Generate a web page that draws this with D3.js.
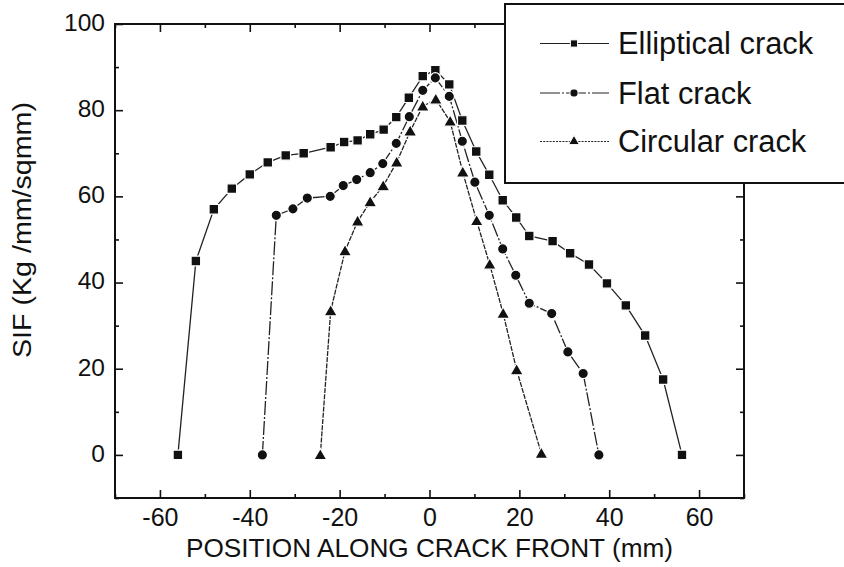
<!DOCTYPE html>
<html><head><meta charset="utf-8">
<script src="https://cdn.jsdelivr.net/npm/d3@7"></script>
<style>
html,body{margin:0;padding:0;background:#fff;}
text{font-family:"Liberation Sans",Arial,sans-serif;fill:#111;}
</style></head>
<body>
<svg id="chart" width="844" height="567"></svg>
<script>
// ---- data ----
const ellipticalX = [-56,-52,-48,-44,-40,-36,-32,-28,-22,-19,-16,-13.2,-10.2,-7.4,-4.6,-1.5,1.3,4.4,7.3,10.4,13.3,16.3,19.3,22.2,27.4,31.3,35.5,39.5,43.7,48,52,56.2];
const ellipticalY = [0,45,57,61.8,65.1,67.9,69.5,70,71.4,72.6,73,74.4,75.5,78.4,82.9,87.9,89.3,86,77.6,70.4,65,59.1,55.1,50.8,49.6,46.8,44.2,39.8,34.7,27.7,17.5,0];
const flatX = [-37.2,-34.1,-30.4,-27.2,-22.1,-19.2,-16.2,-13.2,-10.4,-7.4,-4.5,-1.5,1.3,4.4,7.3,10.1,13.3,16.3,19.2,22.2,27.2,30.8,34.2,37.7];
const flatY = [0,55.6,57.1,59.6,60,62.5,63.9,65.5,67.6,72.3,78.5,84.6,87.5,83.2,72.8,63.3,55.6,47.8,41.7,35.2,32.8,23.9,18.9,0];
const circularX = [-24.3,-22,-18.8,-16,-13.2,-10.3,-7.3,-4.3,-1.5,1.4,4.6,7.4,10.5,13.4,16.4,19.4,24.9];
const circularY = [0,33.4,47.3,54.2,58.7,62.4,67.9,75.1,80.9,82.5,77.4,65.6,54.3,44.2,32.8,19.7,0.3];
const seriesNames = ["Elliptical crack","Flat crack","Circular crack"];
const xTicks = [-60,-40,-20,0,20,40,60];
const yTicks = [0,20,40,60,80,100];
const xMinor = [-70,-50,-30,-10,10,30,50,70];
const yMinor = [-10,10,30,50,70,90];
const xTitle = "POSITION ALONG CRACK FRONT (mm)";
const yTitle = "SIF (Kg /mm/sqmm)";

// ---- layout ----
const L = 115, R = 744, T = 24, B = 498;
const svg = d3.select("#chart");
const x = d3.scaleLinear().domain([-70,70]).range([L,R]);
const y = d3.scaleLinear().domain([-10,100]).range([B,T]);
const fmt = d => (d < 0 ? "-" + Math.abs(d) : String(d));

function styleAxis(g){ g.select(".domain").remove(); g.selectAll(".tick line").attr("stroke","#111").attr("stroke-width",1.6); }
svg.append("g").attr("transform",`translate(0,${B})`)
  .call(d3.axisBottom(x).tickValues(xTicks).tickSizeInner(-8).tickSizeOuter(0).tickFormat(fmt))
  .call(styleAxis)
  .call(g=>g.selectAll(".tick text").attr("font-size",25).attr("dy",0).attr("y",28).attr("fill","#111").style("font-family","Liberation Sans, Arial, sans-serif"));
svg.append("g").attr("transform",`translate(0,${B})`)
  .call(d3.axisBottom(x).tickValues(xMinor).tickSize(-4).tickFormat("")).call(styleAxis);
svg.append("g").attr("transform",`translate(0,${T})`)
  .call(d3.axisTop(x).tickValues(xTicks).tickSize(-8).tickFormat("")).call(styleAxis);
svg.append("g").attr("transform",`translate(0,${T})`)
  .call(d3.axisTop(x).tickValues(xMinor).tickSize(-4).tickFormat("")).call(styleAxis);
svg.append("g").attr("transform",`translate(${L},0)`)
  .call(d3.axisLeft(y).tickValues(yTicks).tickSizeInner(-8).tickSizeOuter(0).tickFormat(fmt))
  .call(styleAxis)
  .call(g=>g.selectAll(".tick text").attr("font-size",24.5).attr("x",-10).attr("dy","0.26em").attr("fill","#111").style("font-family","Liberation Sans, Arial, sans-serif"));
svg.append("g").attr("transform",`translate(${L},0)`)
  .call(d3.axisLeft(y).tickValues(yMinor).tickSize(-4).tickFormat("")).call(styleAxis);
svg.append("g").attr("transform",`translate(${R},0)`)
  .call(d3.axisRight(y).tickValues(yTicks).tickSize(-8).tickFormat("")).call(styleAxis);
svg.append("g").attr("transform",`translate(${R},0)`)
  .call(d3.axisRight(y).tickValues(yMinor).tickSize(-4).tickFormat("")).call(styleAxis);

svg.append("rect").attr("x",L).attr("y",T).attr("width",R-L).attr("height",B-T)
  .attr("fill","none").attr("stroke","#111").attr("stroke-width",2);

// titles
svg.append("text").attr("x",(L+R)/2).attr("y",557).attr("text-anchor","middle")
  .attr("font-size",26).attr("textLength",487).attr("lengthAdjust","spacingAndGlyphs").text(xTitle);
svg.append("text").attr("transform",`translate(31,230) rotate(-90)`).attr("text-anchor","middle")
  .attr("font-size",25.5).attr("textLength",256).attr("lengthAdjust","spacingAndGlyphs").text(yTitle);

// series
const series = [
  {name:seriesNames[0], xs:ellipticalX, ys:ellipticalY, dash:null, legDash:null, shape:"square"},
  {name:seriesNames[1], xs:flatX, ys:flatY, dash:"14,2,2,2", legDash:"20,2,2,2", shape:"circle"},
  {name:seriesNames[2], xs:circularX, ys:circularY, dash:"5,1.2", legDash:"2,1.2", shape:"triangle"}
];
const line = d3.line().x(d=>x(d[0])).y(d=>y(d[1]));
const symGen = {
  square: d3.symbol().type(d3.symbolSquare).size(92),
  circle: d3.symbol().type(d3.symbolCircle).size(84),
  triangle: d3.symbol().type(d3.symbolTriangle).size(74)
};
const symLeg = {
  square: d3.symbol().type(d3.symbolSquare).size(52),
  circle: d3.symbol().type(d3.symbolCircle).size(52),
  triangle: d3.symbol().type(d3.symbolTriangle).size(50)
};
series.forEach(s=>{
  const pts = s.xs.map((v,i)=>[v,s.ys[i]]);
  svg.append("path").datum(pts).attr("d",line).attr("fill","none")
    .attr("stroke","#222").attr("stroke-width",1.3)
    .attr("stroke-dasharray",s.dash);
});
series.forEach(s=>{
  const pts = s.xs.map((v,i)=>[v,s.ys[i]]);
  svg.append("g").selectAll("path").data(pts).join("path")
    .attr("d",symGen[s.shape])
    .attr("transform",d=>`translate(${x(d[0])},${y(d[1])+(s.shape==="triangle"?1:0)})`)
    .attr("fill","#111").attr("stroke","#fff").attr("stroke-width",1.2);
});

// legend
const lg = svg.append("g");
lg.append("rect").attr("x",505).attr("y",4).attr("width",360).attr("height",179)
  .attr("fill","#fff").attr("stroke","#111").attr("stroke-width",2);
const legY = [43.5, 93, 141.5];
series.forEach((s,i)=>{
  lg.append("line").attr("x1",540).attr("x2",609).attr("y1",legY[i]).attr("y2",legY[i])
    .attr("stroke","#222").attr("stroke-width",1.2).attr("stroke-dasharray",s.legDash);
  lg.append("path").attr("d",symLeg[s.shape]).attr("transform",`translate(574,${legY[i]})`)
    .attr("fill","#111").attr("stroke","#fff").attr("stroke-width",1);
  lg.append("text").attr("x",618).attr("y",legY[i]+10.5).attr("font-size",30.8).text(s.name);
});
</script>
</body></html>
